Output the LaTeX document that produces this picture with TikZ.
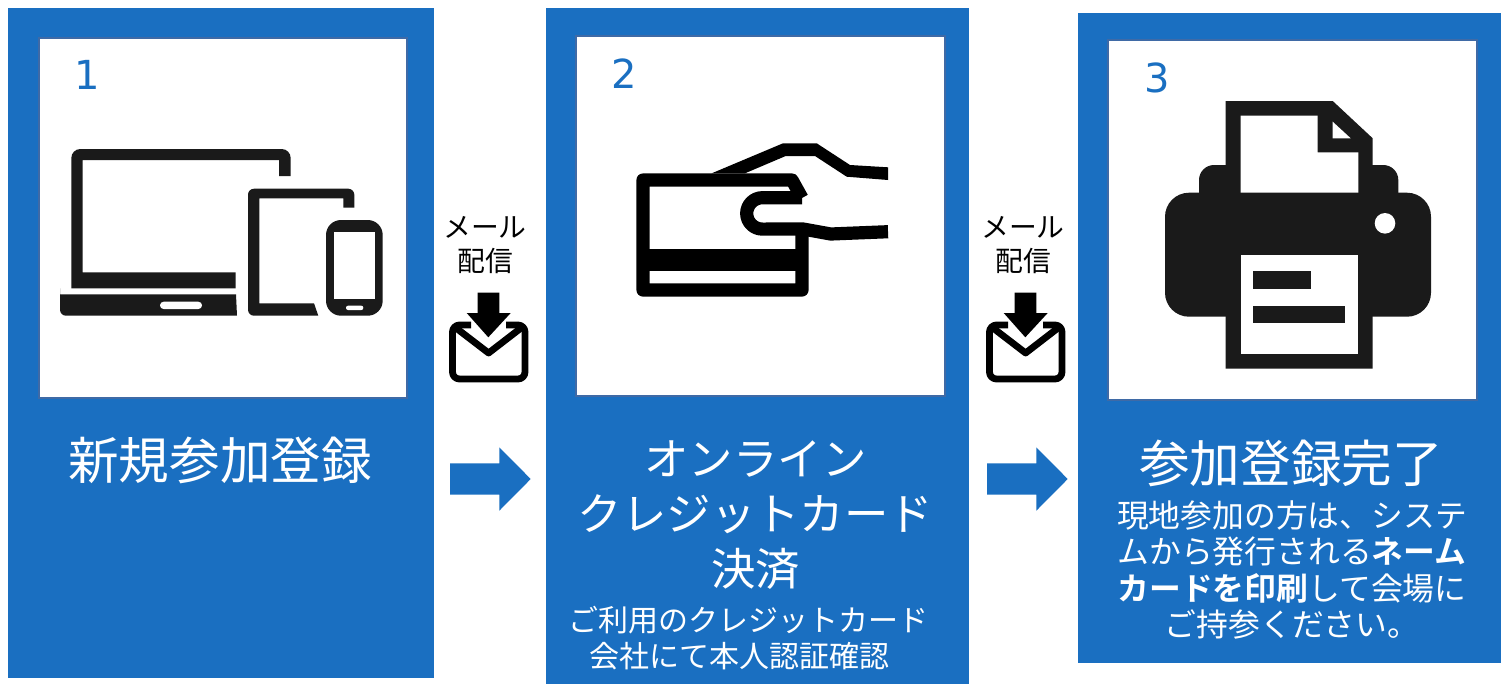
\documentclass[tikz,border=0pt]{standalone}
\usepackage{fontspec}
\setmainfont{Noto Sans CJK JP}[BoldFont={Noto Sans CJK JP Bold}]
\newfontfamily\numfont{DejaVu Sans}
\definecolor{panelblue}{HTML}{1A6FC1}
\definecolor{icon}{HTML}{1A1A1A}
\definecolor{edgeblue}{HTML}{3F6AA6}
\tikzset{
 panel/.style={fill=panelblue},
 whitebox/.style={fill=white,draw=edgeblue,line width=0.6pt},
 numlabel/.style={text=panelblue,inner sep=0pt,font=\numfont\fontsize{20}{24}\selectfont},
 title/.style={text=white,inner sep=0pt,align=center},
 mailtext/.style={text=black,inner sep=0pt,align=center,font=\fontsize{13.9}{17}\selectfont},
 flow/.style={fill=panelblue},
 cardline/.style={draw=black,line width=6.6pt,line join=round,fill=none},
 mailline/.style={draw=black,line width=3.4pt,line join=round,fill=none},
}
\begin{document}
\begin{tikzpicture}[x=0.5pt,y=-0.5pt]
\useasboundingbox (0,0) rectangle (1510,692);
\fill[white] (0,0) rectangle (1510,692);
% panels
\fill[panel] (8,8) rectangle (434,678);
\fill[panel] (546,8) rectangle (969,684);
\fill[panel] (1078,13) rectangle (1501,663);
\draw[whitebox] (39,38) rectangle (407,398);
\draw[whitebox] (576,36) rectangle (945,396);
\draw[whitebox] (1108,40) rectangle (1477,400);
\node[numlabel] (n1) at (87,75) {1};
\node[numlabel] (n2) at (624,74) {2};
\node[numlabel] (n3) at (1157,78) {3};
% laptop
\fill[icon] (71.3,288.3) [rounded corners=4.5pt] -- (71.3,149) -- (290.7,149) [sharp corners] -- (290.7,176) -- (279,176) -- (279,160) -- (82.7,160) -- (82.7,272.3) -- (235.7,272.3) -- (235.7,288.3) -- cycle;
\fill[icon] (60,294.3) -- (236,294.3) -- (237,315.7) [rounded corners=3pt] -- (60,315.7) -- (60,294.3) [sharp corners] -- cycle;
\fill[white,rounded corners=1.8pt] (160,301.7) rectangle (202,309);
% tablet
\fill[icon] (300,188.7) [rounded corners=3pt] -- (354.3,188.7) [sharp corners] -- (354.3,207.7) -- (343.3,207.7) -- (343.3,198.3) -- (259.3,198.3) -- (259.3,303.3) -- (314,303.3) -- (318.3,315.7) [rounded corners=3pt] -- (248,315.7) -- (248,188.7) -- cycle;
% phone
\fill[white,rounded corners=8pt] (322,216) rectangle (386.7,319.7);
\fill[icon,rounded corners=7.5pt] (326,220) rectangle (382.7,315.7);
\fill[white] (333.7,232) rectangle (375.3,299);
\fill[white,rounded corners=1pt] (346,305.7) rectangle (363.3,310);
% card
\draw[cardline] (802,229) -- (802,290) -- (643,290) -- (643,180) -- (792,180) -- (802,198);
\fill[black] (645,249.3) rectangle (800,271.3);
\draw[cardline] (802,197.7) -- (762.4,197.7) arc[start angle=270,end angle=90,radius=15.7] -- (803,229) -- (830.7,234) -- (888,231.7);
\fill[black] (711.7,173.3) -- (783,143.3) -- (816.7,143.3) -- (850,165) -- (888,167.3) -- (888,180) -- (846.7,176.7) -- (815,156) -- (785.7,156) -- (745,173.3) -- cycle;
% printer
\fill[icon,rounded corners=7.5pt] (1199,165) rectangle (1398.3,240);
\fill[icon,rounded corners=12pt] (1165,192.7) rectangle (1431,316.7);
\fill[icon] (1225.7,368.7) -- (1225.7,101) -- (1332.7,101) -- (1372.7,138.3) -- (1372.7,368.7) -- cycle;
\fill[white] (1240.7,192.7) -- (1240.7,115.7) -- (1317.7,115.7) -- (1317.7,152.3) -- (1358.3,152.3) -- (1358.3,192.7) -- cycle;
\fill[white] (1332.7,121.7) -- (1332.7,138.3) -- (1350.7,138.3) -- cycle;
\fill[white] (1385,223.3) circle[radius=10.3];
\fill[white] (1240.7,255) rectangle (1358.3,354.3);
\fill[icon] (1253.3,271) rectangle (1311.3,288.7);
\fill[icon] (1253.3,306) rectangle (1345,323.3);
% mail icons and flow arrows
\foreach \dx in {0,537}{
 \begin{scope}[xshift=\dx*0.5pt]
  \draw[mailline,rounded corners=3.5pt] (471,325) -- (452.5,325) -- (452.5,379) -- (525,379) -- (525,325) -- (506,325);
  \draw[mailline] (456,328) -- (488.6,353) -- (521,328);
  \fill[black] (477.7,292.7) -- (499.3,292.7) -- (499.3,313) -- (510.7,313) -- (488.3,337.3) -- (466.7,313) -- (477.7,313) -- cycle;
  \fill[flow] (450,463.3) -- (499.3,463.3) -- (499.3,447.3) -- (530.7,479) -- (499.3,510.7) -- (499.3,494.7) -- (450,494.7) -- cycle;
 \end{scope}
}
\node[mailtext] (m1) at (485,245) {メール\\配信};
\node[mailtext] (m2) at (1023,245) {メール\\配信};
% titles
\node[title,font=\fontsize{25.3}{30}\selectfont] (t1) at (220,460) {新規参加登録};
\node[title,font=\fontsize{22.2}{27.5}\selectfont] (t2) at (755.5,515.5) {オンライン\\クレジットカード\\決済};
\node[title,font=\fontsize{15}{18}\selectfont] (s2) at (748.5,638) {ご利用のクレジットカード\\会社にて本人認証確認\rule{9pt}{0pt}};
\node[title,font=\fontsize{25.3}{30}\selectfont] (t3) at (1291,463) {参加登録完了};
\node[title,font=\fontsize{15.9}{18.2}\selectfont] (s3) at (1292,570) {現地参加の方は、システ\\ムから発行される\textbf{ネーム}\\\textbf{カードを印刷}して会場に\\ご持参ください。};
\end{tikzpicture}
\end{document}
